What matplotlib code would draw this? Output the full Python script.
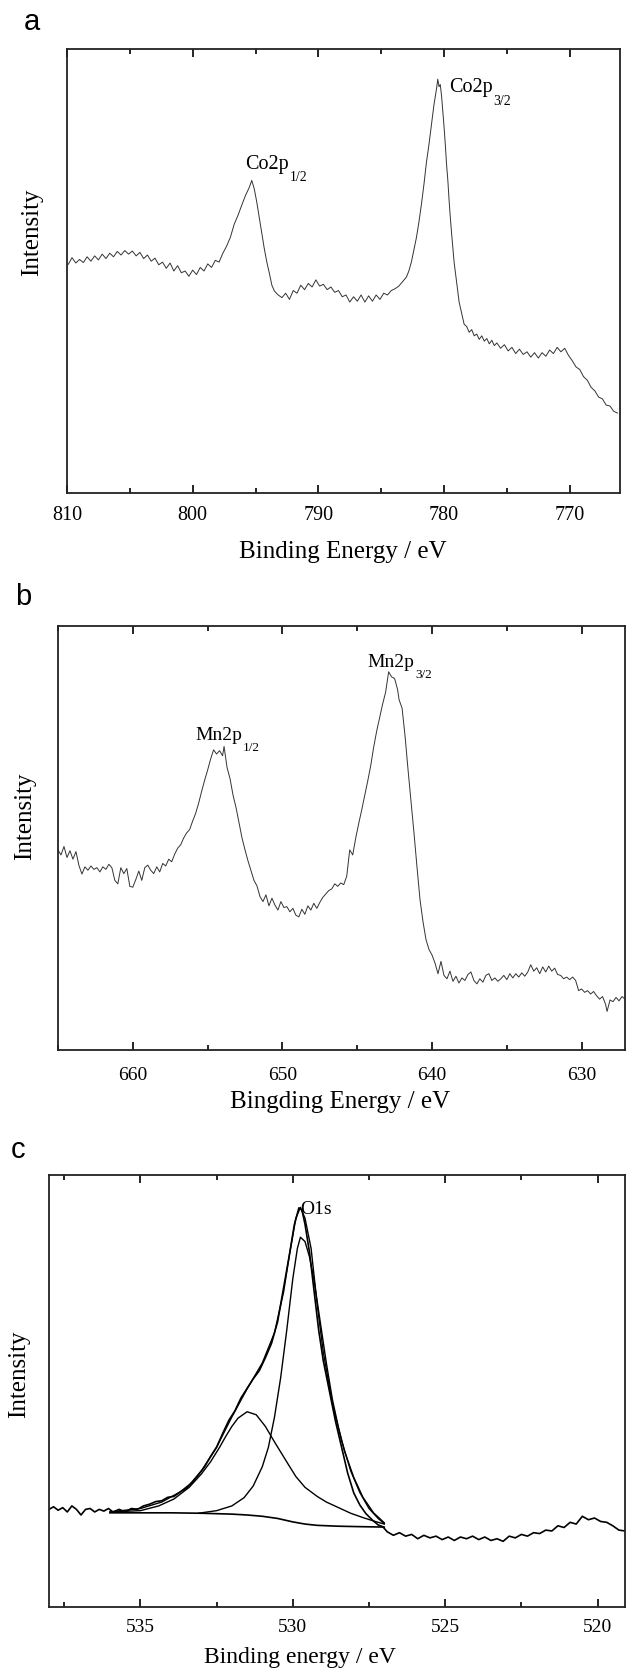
import numpy as np
import matplotlib
matplotlib.use("Agg")
import matplotlib.pyplot as plt
from matplotlib.ticker import MultipleLocator

SERIF = 'Liberation Serif'
plt.rcParams['font.family'] = 'serif'
plt.rcParams['font.serif'] = [SERIF, 'DejaVu Serif']

# ---- panel a : Co 2p  (binding energy eV, intensity in % of axis height)
co_be = [809.9, 809.6, 809.3, 809.0, 808.7, 808.4, 808.1, 807.8, 807.5, 807.2,
         806.9, 806.6, 806.3, 806.0, 805.7, 805.4, 805.1, 804.8, 804.5, 804.2,
         803.9, 803.6, 803.3, 803.0, 802.7, 802.4, 802.1, 801.8, 801.5, 801.2,
         800.9, 800.6, 800.3, 800.0, 799.7, 799.4, 799.1, 798.8, 798.5, 798.2,
         797.9, 797.6, 797.3, 797.0, 796.7, 796.4, 796.1, 795.8, 795.5, 795.3,
         795.1, 794.9, 794.7, 794.5, 794.3, 794.1, 793.9, 793.7, 793.5, 793.2,
         792.9, 792.6, 792.3, 792.0, 791.7, 791.4, 791.1, 790.8, 790.5, 790.2,
         789.9, 789.6, 789.3, 789.0, 788.7, 788.4, 788.1, 787.8, 787.5, 787.2,
         786.9, 786.6, 786.3, 786.0, 785.7, 785.4, 785.1, 784.8, 784.5, 784.2,
         783.9, 783.6, 783.3, 783.0, 782.8, 782.6, 782.4, 782.2, 782.0, 781.8,
         781.6, 781.4, 781.2, 781.0, 780.8, 780.6, 780.5, 780.4, 780.3, 780.2,
         780.1, 780.0, 779.9, 779.8, 779.7, 779.6, 779.5, 779.4, 779.2, 779.0,
         778.8, 778.6, 778.4, 778.2, 778.0, 777.8, 777.6, 777.4, 777.2, 777.0,
         776.8, 776.6, 776.4, 776.2, 776.0, 775.8, 775.5, 775.2, 774.9, 774.6,
         774.3, 774.0, 773.7, 773.4, 773.1, 772.8, 772.5, 772.2, 771.9, 771.6,
         771.3, 771.0, 770.7, 770.4, 770.1, 769.8, 769.5, 769.2, 768.9, 768.6,
         768.3, 768.0, 767.7, 767.4, 767.1, 766.8, 766.5, 766.2]
co_int = [51.5, 53.0, 51.8, 52.6, 51.9, 53.2, 52.2, 53.4, 52.5, 53.8,
          52.8, 54.0, 53.2, 54.4, 53.6, 54.6, 53.8, 54.5, 53.4, 54.2,
          52.8, 53.6, 52.2, 52.9, 51.4, 52.0, 50.6, 51.8, 50.0, 51.2,
          49.6, 50.0, 48.8, 50.2, 49.2, 50.8, 50.0, 51.6, 50.8, 52.4,
          52.0, 54.0, 55.6, 57.6, 60.5, 62.5, 64.8, 67.0, 68.8, 70.4,
          68.5, 65.5, 62.0, 58.5, 55.0, 52.0, 49.5, 46.8, 45.5, 44.6,
          44.0, 45.0, 43.6, 45.6, 45.0, 46.8, 45.8, 47.2, 46.4, 48.0,
          46.6, 47.0, 45.8, 46.4, 45.2, 45.6, 44.2, 44.6, 43.0, 44.2,
          43.2, 44.6, 43.0, 44.4, 43.2, 44.6, 43.6, 45.0, 44.6, 45.6,
          46.0, 46.6, 47.6, 48.6, 50.0, 52.0, 54.8, 57.5, 61.0, 65.0,
          69.5, 74.5, 78.5, 83.0, 87.5, 91.0, 93.2, 91.5, 92.0, 89.5,
          86.0, 82.5, 78.5, 74.0, 70.5, 66.0, 62.0, 58.5, 52.0, 47.5,
          43.0, 40.5, 38.0, 37.5, 36.2, 36.8, 35.4, 35.8, 34.6, 35.4,
          34.2, 34.8, 33.6, 34.4, 33.2, 33.8, 32.6, 33.4, 32.0, 32.8,
          31.4, 32.4, 31.2, 31.8, 30.6, 31.6, 30.4, 31.6, 30.8, 32.2,
          31.4, 32.8, 31.8, 32.6, 31.0, 29.8, 28.4, 27.8, 26.2, 25.4,
          23.8, 23.0, 21.6, 21.2, 19.8, 19.6, 18.4, 18.0]

# ---- panel b : Mn 2p
mn_be = [665.0, 664.8, 664.6, 664.4, 664.2, 664.0, 663.8, 663.6, 663.4, 663.2,
         663.0, 662.8, 662.6, 662.4, 662.2, 662.0, 661.8, 661.6, 661.4, 661.2,
         661.0, 660.8, 660.6, 660.4, 660.2, 660.0, 659.8, 659.6, 659.4, 659.2,
         659.0, 658.8, 658.6, 658.4, 658.2, 658.0, 657.8, 657.6, 657.4, 657.2,
         657.0, 656.8, 656.6, 656.4, 656.2, 656.0, 655.8, 655.6, 655.4, 655.2,
         655.0, 654.8, 654.6, 654.4, 654.2, 654.0, 653.9, 653.7, 653.5, 653.3,
         653.1, 652.9, 652.7, 652.5, 652.3, 652.1, 651.9, 651.7, 651.5, 651.3,
         651.1, 650.9, 650.7, 650.5, 650.3, 650.1, 649.9, 649.7, 649.5, 649.3,
         649.1, 648.9, 648.7, 648.5, 648.3, 648.1, 647.9, 647.7, 647.5, 647.3,
         647.1, 646.9, 646.7, 646.5, 646.3, 646.1, 645.9, 645.7, 645.5, 645.3,
         645.1, 644.9, 644.7, 644.5, 644.3, 644.1, 643.9, 643.7, 643.5, 643.3,
         643.1, 642.9, 642.7, 642.5, 642.3, 642.2, 642.0, 641.8, 641.6, 641.4,
         641.2, 641.0, 640.8, 640.6, 640.4, 640.2, 640.0, 639.8, 639.6, 639.4,
         639.2, 639.0, 638.8, 638.6, 638.4, 638.2, 638.0, 637.8, 637.6, 637.4,
         637.2, 637.0, 636.8, 636.6, 636.4, 636.2, 636.0, 635.8, 635.6, 635.4,
         635.2, 635.0, 634.8, 634.6, 634.4, 634.2, 634.0, 633.8, 633.6, 633.4,
         633.2, 633.0, 632.8, 632.6, 632.4, 632.2, 632.0, 631.8, 631.6, 631.4,
         631.2, 631.0, 630.8, 630.6, 630.4, 630.2, 630.0, 629.8, 629.6, 629.4,
         629.2, 629.0, 628.8, 628.6, 628.4, 628.3, 628.1, 627.9, 627.7, 627.5,
         627.3, 627.1]
mn_int = [47.2, 46.0, 48.0, 45.4, 47.0, 45.0, 46.8, 43.5, 41.5, 43.2,
          42.4, 43.4, 42.6, 43.0, 42.0, 43.2, 42.6, 43.8, 43.0, 40.0,
          39.2, 43.0, 41.6, 42.8, 38.6, 38.4, 40.2, 42.2, 40.0, 43.0,
          43.6, 42.4, 41.6, 43.2, 42.0, 44.0, 43.4, 45.0, 44.4, 46.2,
          47.6, 48.4, 50.0, 51.2, 52.0, 54.0, 55.8, 58.2, 61.0, 63.6,
          66.0, 68.6, 70.8, 69.8, 70.6, 69.4, 71.6, 66.6, 64.0, 60.1,
          57.2, 53.6, 50.0, 47.2, 44.6, 42.3, 40.0, 38.7, 36.2, 35.0,
          36.6, 34.0, 35.8, 34.2, 33.0, 35.0, 33.6, 33.8, 32.6, 33.4,
          31.8, 31.4, 33.2, 32.0, 34.0, 33.0, 34.6, 33.4, 34.8, 36.0,
          36.8, 37.6, 38.0, 39.2, 38.6, 39.4, 39.0, 41.0, 47.2, 46.0,
          50.0, 53.4, 56.6, 60.0, 63.4, 67.0, 71.4, 75.2, 78.4, 81.6,
          84.4, 89.2, 88.0, 87.6, 85.0, 82.6, 80.6, 74.0, 66.0, 58.5,
          51.0, 43.0, 35.4, 30.2, 26.0, 23.7, 22.4, 20.5, 18.0, 20.9,
          17.6, 16.8, 18.6, 16.2, 17.4, 15.8, 17.0, 16.4, 17.8, 18.4,
          16.4, 15.6, 16.8, 16.0, 17.6, 18.0, 16.4, 17.0, 16.2, 16.8,
          17.6, 16.6, 18.0, 17.0, 18.0, 17.2, 18.2, 17.4, 18.4, 20.1,
          18.6, 19.4, 18.0, 19.6, 18.4, 19.8, 18.6, 19.3, 17.8, 17.6,
          16.8, 17.2, 16.6, 17.2, 16.4, 14.0, 14.4, 13.6, 14.0, 13.2,
          13.8, 12.8, 12.0, 12.6, 10.8, 9.1, 11.8, 11.4, 12.4, 11.6,
          12.6, 12.0]

# ---- panel c : O 1s raw spectrum
o_be = [538.0, 537.85, 537.7, 537.55, 537.4, 537.25, 537.1, 536.95, 536.8, 536.65,
        536.5, 536.35, 536.2, 536.05, 535.9, 535.7, 535.5, 535.3, 535.1, 534.9,
        534.7, 534.5, 534.3, 534.1, 533.9, 533.7, 533.5, 533.3, 533.1, 532.9,
        532.7, 532.5, 532.3, 532.1, 531.9, 531.7, 531.5, 531.3, 531.1, 530.9,
        530.7, 530.5, 530.3, 530.1, 529.95, 529.8, 529.7, 529.6, 529.45, 529.3,
        529.15, 529.0, 528.8, 528.6, 528.4, 528.2, 528.0, 527.8, 527.6, 527.4,
        527.2, 527.05, 526.9, 526.7, 526.5, 526.3, 526.1, 525.9, 525.7, 525.5,
        525.3, 525.1, 524.9, 524.7, 524.5, 524.3, 524.1, 523.9, 523.7, 523.5,
        523.3, 523.1, 522.9, 522.7, 522.5, 522.3, 522.1, 521.9, 521.7, 521.5,
        521.3, 521.1, 520.9, 520.7, 520.5, 520.3, 520.1, 519.9, 519.7, 519.5,
        519.3, 519.1]
o_int = [22.6, 23.2, 22.4, 23.0, 22.0, 23.4, 22.6, 21.3, 22.6, 22.8,
         22.0, 22.6, 22.2, 22.8, 22.0, 22.6, 22.0, 22.8, 22.6, 23.4,
         23.8, 24.4, 24.6, 25.4, 25.6, 26.6, 27.7, 28.8, 30.6, 32.4,
         34.8, 37.0, 40.2, 43.2, 45.4, 48.4, 50.6, 52.8, 54.7, 57.7,
         61.0, 66.0, 74.0, 82.0, 88.5, 92.4, 91.9, 88.6, 82.0, 73.0,
         64.0, 57.0, 50.0, 43.0, 37.0, 31.0, 26.4, 23.6, 21.6, 20.2,
         19.0, 18.6, 17.4, 16.6, 17.2, 16.4, 16.8, 15.8, 16.6, 16.0,
         16.4, 15.6, 16.2, 15.4, 16.2, 15.8, 16.4, 15.6, 16.2, 15.4,
         15.8, 15.2, 16.4, 16.0, 16.8, 16.4, 17.2, 17.0, 17.8, 17.6,
         18.8, 18.4, 19.6, 19.2, 21.0, 20.2, 20.6, 19.8, 19.6, 18.8,
         17.8, 17.6]

# fitted envelope
fit_be = [536.0, 535.0, 534.3, 533.5, 533.0, 532.5, 532.0, 531.5, 531.0, 530.6,
          530.3, 530.1, 529.9, 529.75, 529.6, 529.4, 529.2, 529.0, 528.7, 528.4,
          528.1, 527.8, 527.5, 527.2, 527.0]
fit_int = [22.0, 22.8, 24.3, 27.4, 31.5, 37.0, 44.0, 50.5, 56.5, 63.5,
           73.0, 82.0, 90.0, 92.5, 90.0, 83.0, 70.0, 59.0, 47.0, 38.5,
           31.5, 26.5, 22.8, 20.5, 19.3]

# component 1 (~529.7 eV)
c1_be = [533.1, 532.5, 532.0, 531.6, 531.3, 531.0, 530.8, 530.6, 530.4, 530.2,
         530.0, 529.85, 529.75, 529.6, 529.45, 529.3, 529.1, 528.9, 528.7, 528.5,
         528.3, 528.0, 527.7, 527.35, 527.0]
c1_int = [21.7, 22.3, 23.4, 25.3, 28.0, 32.5, 37.0, 44.0, 53.0, 64.0,
          76.0, 83.0, 85.6, 84.6, 81.0, 75.5, 66.0, 56.5, 48.0, 41.5,
          36.0, 30.0, 25.4, 21.8, 19.5]

# component 2 (~531.5 eV)
c2_be = [536.0, 535.0, 534.4, 533.9, 533.4, 533.0, 532.7, 532.4, 532.2, 532.0,
         531.8, 531.5, 531.2, 530.9, 530.6, 530.2, 529.9, 529.6, 529.2, 528.9,
         528.5, 528.1, 527.7, 527.3, 527.0]
c2_int = [22.0, 22.3, 23.4, 25.0, 27.7, 30.8, 33.6, 37.0, 39.5, 41.8,
          43.7, 45.2, 44.5, 41.8, 38.2, 33.6, 30.2, 27.7, 25.6, 24.3,
          23.0, 21.7, 20.7, 19.8, 19.2]

# Shirley background
bg_be = [536.0, 535.0, 534.0, 533.0, 532.0, 531.5, 531.0, 530.5, 530.0, 529.6,
         529.2, 528.5, 527.8, 527.0]
bg_int = [21.8, 21.8, 21.8, 21.7, 21.5, 21.3, 21.0, 20.5, 19.7, 19.2,
          18.9, 18.7, 18.6, 18.5]

ticks_a = [810, 800, 790, 780, 770]
ticks_b = [660, 650, 640, 630]
ticks_c = [535, 530, 525, 520]

W, H = 626, 1673
fig = plt.figure(figsize=(W / 100, H / 100), dpi=100)


def box(l, t, r, b):
    return [l / W, 1 - b / H, (r - l) / W, (b - t) / H]


def style(ax, xlim, ticks, minor, fs, pad):
    ax.set_xlim(*xlim)
    ax.set_ylim(0, 100)
    ax.set_yticks([])
    ax.set_xticks(ticks)
    ax.set_xticklabels([])
    ax.xaxis.set_minor_locator(MultipleLocator(minor))
    ax.tick_params(axis='x', which='both', direction='in', top=True,
                   labeltop=False, width=1.2)
    ax.tick_params(axis='x', which='major', length=6)
    ax.tick_params(axis='x', which='minor', length=3.5)
    # tick labels drawn as plain serif text
    for v in ticks:
        ax.annotate(str(v), xy=(v, 0), xycoords=ax.get_xaxis_transform(),
                    xytext=(0, -pad), textcoords='offset pixels',
                    ha='center', va='center', fontsize=fs, family=SERIF,
                    annotation_clip=False)
    for s in ax.spines.values():
        s.set_linewidth(1.3)
        s.set_color('#222222')


def ftext(x, y, s, **kw):
    fig.text(x / W, 1 - y / H, s, ha='center', va='center', **kw)


def peak_label(ax, x, y, main, sub, fs):
    t = ax.text(x, y, main, fontsize=fs, va='baseline', ha='left', family=SERIF)
    if sub:
        ax.annotate(sub, xy=(1, 0), xycoords=t, xytext=(0.5, -4),
                    textcoords='offset pixels', ha='left', va='center',
                    fontsize=fs * 0.68, family=SERIF)


# panel a
ax1 = fig.add_axes(box(67, 49, 620, 493))
ax1.plot(co_be, co_int, color='#333333', lw=0.7)
style(ax1, (810, 766), ticks_a, 5, 14.5, 22)
peak_label(ax1, 779.6, 90.3, 'Co2p', '3/2', 14.5)
peak_label(ax1, 795.8, 73.0, 'Co2p', '1/2', 14.5)
ftext(32, 22, 'a', fontsize=21, family='Liberation Sans')
ftext(32, 232, 'Intensity', fontsize=18, rotation=90)
ftext(343, 552, 'Binding Energy / eV', fontsize=18)

# panel b
ax2 = fig.add_axes(box(58, 626, 625, 1050))
ax2.plot(mn_be, mn_int, color='#333333', lw=0.7)
style(ax2, (665, 627.1), ticks_b, 5, 14, 26)
peak_label(ax2, 644.3, 90.4, 'Mn2p', '3/2', 14)
peak_label(ax2, 655.8, 73.1, 'Mn2p', '1/2', 14)
ftext(23, 597, 'b', fontsize=21, family='Liberation Sans')
ftext(25, 816, 'Intensity', fontsize=18, rotation=90)
ftext(340, 1102, 'Bingding Energy / eV', fontsize=18)

# panel c
ax3 = fig.add_axes(box(49, 1175, 625, 1607))
ax3.plot(o_be, o_int, color='black', lw=1.2)
ax3.plot(fit_be, fit_int, color='black', lw=1.0)
ax3.plot(c1_be, c1_int, color='black', lw=1.0)
ax3.plot(c2_be, c2_int, color='black', lw=1.0)
ax3.plot(bg_be, bg_int, color='black', lw=1.2)
style(ax3, (538.0, 519.1), ticks_c, 2.5, 14, 21)
peak_label(ax3, 529.75, 91.0, 'O1s', '', 14)
ftext(18, 1150, 'c', fontsize=21, family='Liberation Sans')
ftext(19, 1374, 'Intensity', fontsize=18, rotation=90)
ftext(300, 1658, 'Binding energy / eV', fontsize=17)

fig.savefig('out.png', dpi=100)
